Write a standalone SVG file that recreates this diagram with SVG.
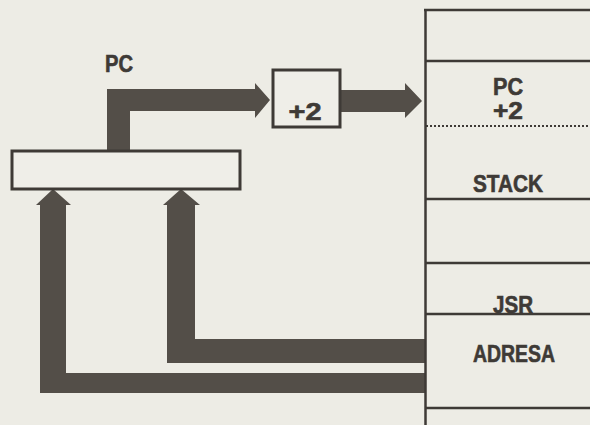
<svg xmlns="http://www.w3.org/2000/svg" width="590" height="425" viewBox="0 0 590 425">
<style>
.bg{fill:#edece5}
.box{fill:#efeee8;stroke:#3e3a36;stroke-width:3}
.ln{stroke:#3e3a36;stroke-width:2.5;fill:none}
.dot{stroke:#3e3a36;stroke-width:2;stroke-dasharray:2 2;fill:none}
.arr{fill:#534e48}
.t{font-family:"Liberation Sans",Arial,sans-serif;font-weight:bold;font-size:23px;fill:#3e3a36;stroke:#3e3a36;stroke-width:0.6;text-anchor:middle}
</style>
<rect class="bg" x="0" y="0" width="590" height="425"/>
<g id="connectors">
<path class="arr" d="M107,151 L107,89 L255,89 L255,83 L270,100 L255,118 L255,111 L130,111 L130,151 Z"/>
<path class="arr" d="M340,90 L405,90 L405,83 L422,101 L405,118 L405,112 L340,112 Z"/>
<path class="arr" d="M40,393 L40,205 L36,205 L53,189 L71,205 L66,205 L66,373 L425,373 L425,393 Z"/>
<path class="arr" d="M167,363 L167,205 L163,205 L181,189 L200,205 L195,205 L195,339 L425,339 L425,363 Z"/>
</g>
<g id="pc-register">
<rect class="box" x="12" y="151" width="228" height="38"/>
<text class="t" x="119" y="72" textLength="28" lengthAdjust="spacingAndGlyphs">PC</text>
</g>
<g id="plus2">
<rect class="box" x="273" y="70" width="67" height="57"/>
<text class="t" x="305" y="120" textLength="33" lengthAdjust="spacingAndGlyphs">+2</text>
</g>
<g id="memory">
<line class="ln" x1="425.5" y1="9" x2="425.5" y2="425"/>
<line class="ln" x1="424" y1="10" x2="590" y2="10"/>
<line class="ln" x1="425" y1="61" x2="590" y2="61"/>
<line class="dot" x1="426" y1="126" x2="590" y2="126"/>
<line class="ln" x1="425" y1="199" x2="590" y2="199"/>
<line class="ln" x1="425" y1="263" x2="590" y2="263"/>
<line class="ln" x1="425" y1="314" x2="590" y2="314"/>
<line class="ln" x1="425" y1="408" x2="590" y2="408"/>
<text class="t" x="508" y="95" textLength="30" lengthAdjust="spacingAndGlyphs">PC</text>
<text class="t" x="508" y="119" textLength="30" lengthAdjust="spacingAndGlyphs">+2</text>
<text class="t" x="508" y="192" textLength="70" lengthAdjust="spacingAndGlyphs">STACK</text>
<text class="t" x="513" y="313" textLength="40" lengthAdjust="spacingAndGlyphs">JSR</text>
<text class="t" x="514" y="362" textLength="82" lengthAdjust="spacingAndGlyphs">ADRESA</text>
</g>
</svg>
